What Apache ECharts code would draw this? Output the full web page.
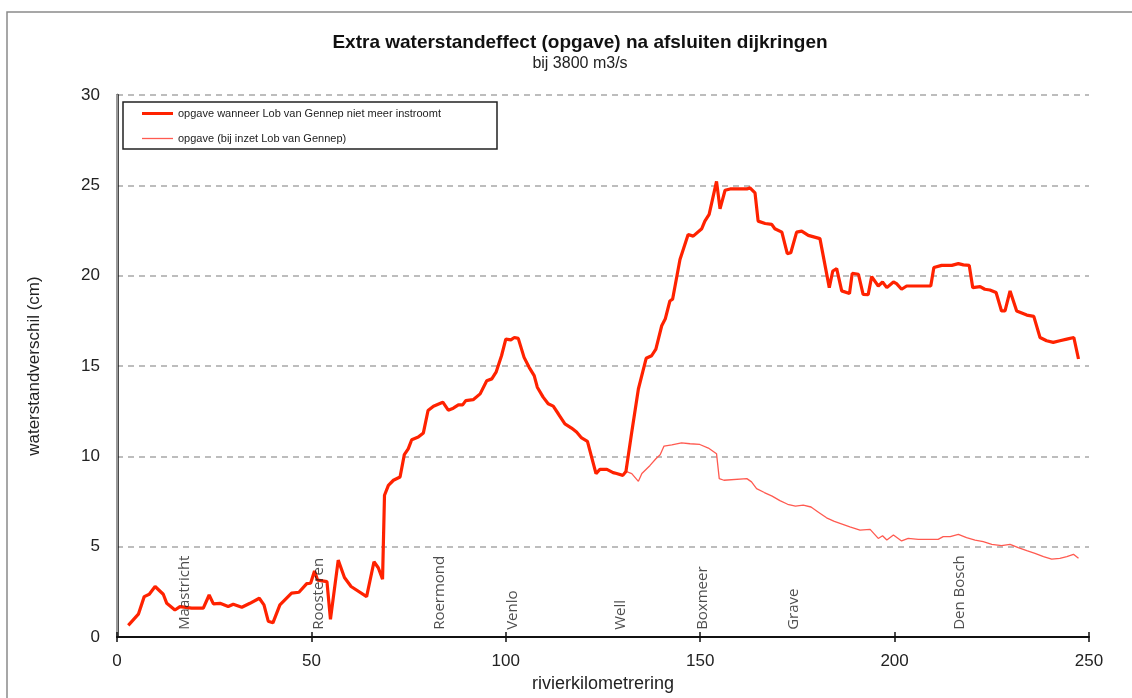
<!DOCTYPE html>
<html>
<head>
<meta charset="utf-8">
<script src="https://cdn.jsdelivr.net/npm/echarts@6/dist/echarts.min.js"></script>
<style>html,body{margin:0;padding:0;background:#fff}#c{width:1132px;height:698px}</style>
</head>
<body>
<div id="c"></div>
<script>
// ---- data ----
var seriesNames = ['opgave wanneer Lob van Gennep niet meer instroomt', 'opgave (bij inzet Lob van Gennep)'];
var kmA = [2.9,5.5,7.0,8.3,9.8,11.9,12.8,14.9,16.2,19.2,22.2,23.7,24.8,26.5,28.6,29.9,32.1,34.2,36.6,37.8,38.9,40.1,41.9,44.9,46.8,48.8,49.8,50.8,51.6,54.0,54.9,56.9,58.5,60.2,64.2,66.1,67.2,68.3,68.8,69.8,71.1,72.8,73.9,74.9,75.8,77.5,78.8,80.0,81.4,83.8,85.2,86.5,87.8,88.9,89.7,91.6,93.4,95.1,96.4,97.5,98.9,100.0,101.3,102.2,103.2,104.7,106.0,107.3,108.1,109.6,110.9,112.2,113.5,115.2,116.9,118.2,119.5,121.0,123.2,124.2,126.0,127.6,128.5,130.1,130.9,132.4,134.1,136.1,137.5,138.6,140.1,141.0,142.2,142.9,144.8,146.9,148.2,150.4,151.2,152.3,154.2,155.1,156.4,157.7,162.0,162.8,164.1,164.9,166.7,168.4,169.2,171.0,172.4,173.3,174.8,176.1,177.8,180.8,183.2,184.1,185.1,186.4,188.4,189.1,190.7,191.9,193.2,194.1,195.8,196.9,198.0,199.7,200.5,201.8,203.1,209.3,210.1,212.1,214.7,216.4,217.7,219.2,220.1,222.0,223.2,224.5,226.1,227.5,228.4,229.7,230.2,231.4,234.0,235.8,237.4,239.1,240.8,242.5,244.3,246.1,247.3];
var valA = [0.65,1.27,2.24,2.37,2.8,2.37,1.87,1.5,1.69,1.6,1.6,2.33,1.84,1.87,1.69,1.82,1.65,1.87,2.15,1.78,0.88,0.79,1.78,2.43,2.48,2.96,2.98,3.66,3.15,3.07,0.98,4.26,3.3,2.8,2.24,4.17,3.84,3.21,7.85,8.4,8.68,8.86,10.1,10.42,10.92,11.07,11.3,12.54,12.78,13.0,12.56,12.67,12.85,12.85,13.09,13.14,13.46,14.19,14.29,14.66,15.57,16.49,16.45,16.58,16.53,15.48,14.93,14.47,13.83,13.28,12.91,12.78,12.36,11.8,11.57,11.35,11.02,10.83,9.05,9.28,9.28,9.1,9.05,8.95,9.17,11.35,13.73,15.43,15.57,15.94,17.23,17.6,18.6,18.7,20.9,22.28,22.19,22.6,23.02,23.39,25.22,23.7,24.73,24.8,24.8,24.86,24.58,23.02,22.89,22.84,22.6,22.41,21.22,21.27,22.41,22.47,22.23,22.05,19.34,20.26,20.39,19.16,19.01,20.13,20.08,18.97,18.95,19.95,19.43,19.65,19.34,19.65,19.56,19.25,19.43,19.43,20.45,20.57,20.57,20.67,20.6,20.57,19.34,19.4,19.25,19.21,19.07,18.05,18.05,19.16,19.1,18.05,17.82,17.75,16.58,16.4,16.31,16.4,16.49,16.58,15.39];
var kmB = [130.1,130.9,132.4,134.1,135.0,137.1,138.6,139.7,140.7,142.7,145.2,147.4,149.9,152.1,154.2,154.9,156.1,162.0,163.2,164.5,166.5,168.5,170.5,172.5,174.5,176.5,178.5,180.5,182.5,184.5,186.5,188.5,191.1,193.7,195.8,196.9,198.0,199.7,201.8,203.5,206.1,211.2,212.5,214.3,216.4,218.5,220.7,222.8,225.0,227.5,229.7,231.8,234.0,236.1,238.3,240.4,242.5,244.3,246.0,247.3];
var valB = [8.95,9.17,9.05,8.62,9.05,9.5,9.87,10.09,10.57,10.64,10.75,10.7,10.66,10.46,10.15,8.77,8.68,8.77,8.59,8.22,8.0,7.8,7.55,7.35,7.25,7.3,7.2,6.9,6.6,6.4,6.25,6.1,5.92,5.96,5.46,5.61,5.37,5.65,5.32,5.46,5.41,5.41,5.56,5.56,5.68,5.5,5.37,5.28,5.13,5.06,5.13,4.95,4.78,4.63,4.45,4.32,4.36,4.45,4.58,4.36];
var cityNames = ['Maastricht','Roosteren','Roermond','Venlo','Well','Boxmeer','Grave','Den Bosch'];
var cityKm = [17.5,52,83,101.9,129.5,150.6,174,216.8];
var cityLabelY = 0.4;

function zip(xs, ys){ return xs.map(function(x,i){ return [x, ys[i]]; }); }

var chart = echarts.init(document.getElementById('c'));
var fam = '"Liberation Sans", Arial, sans-serif';
chart.setOption({
  animation: false,
  backgroundColor: '#fff',
  title: {
    text: 'Extra waterstandeffect (opgave) na afsluiten dijkringen',
    subtext: 'bij 3800 m3/s',
    left: 575, top: 28, textAlign: 'center', itemGap: 4,
    textStyle: { fontFamily: fam, fontSize: 19, fontWeight: 'bold', color: '#111' },
    subtextStyle: { fontFamily: fam, fontSize: 16, color: '#222' }
  },
  graphic: [
    { type: 'rect', silent: true, shape: { x: 7, y: 12, width: 1300, height: 900 }, style: { fill: 'none', stroke: '#8a8a8a', lineWidth: 1.5 }, z: -1 },
    { type: 'rect', silent: true, shape: { x: 123, y: 102, width: 374, height: 47 }, style: { fill: '#fff', stroke: '#222', lineWidth: 1.5 }, z: 5 }
  ],
  legend: {
    data: [
      { name: seriesNames[0], icon: 'path://M0,0L31,0L31,3L0,3Z', itemStyle: { color: '#ff2200' } },
      { name: seriesNames[1], icon: 'path://M0,0L31,0L31,1.3L0,1.3Z', itemStyle: { color: '#ff5a50' } }
    ],
    orient: 'vertical', left: 142, top: 108, itemGap: 14, itemWidth: 31, itemHeight: 14,
    padding: 0, z: 10,
    textStyle: { fontFamily: fam, fontSize: 11, color: '#222' }
  },
  grid: { left: 117, right: 43, top: 95, bottom: 59 },
  xAxis: [{
    type: 'value', min: 0, max: 250, interval: 50,
    name: 'rivierkilometrering', nameLocation: 'middle', nameGap: 37,
    nameTextStyle: { fontFamily: fam, fontSize: 18, color: '#222' },
    axisLine: { lineStyle: { color: '#111', width: 2 } },
    axisTick: { show: true, inside: false, length: 5, lineStyle: { color: '#111', width: 1.5 } },
    axisLabel: { fontFamily: fam, fontSize: 17, color: '#222', margin: 16 },
    splitLine: { show: false }
  }, {
    type: 'value', min: 0, max: 250, interval: 50, position: 'bottom',
    axisLine: { show: false },
    axisTick: { show: true, inside: true, length: 5, lineStyle: { color: '#111', width: 1.5 } },
    axisLabel: { show: false }, splitLine: { show: false }
  }],
  yAxis: [{
    type: 'value', min: 0, max: 30, interval: 5,
    name: 'waterstandverschil (cm)', nameLocation: 'middle', nameGap: 74,
    nameTextStyle: { fontFamily: fam, fontSize: 17, color: '#222' },
    axisLine: { show: true, lineStyle: { color: '#111', width: 2.5 } },
    axisTick: { show: false },
    axisLabel: { fontFamily: fam, fontSize: 17, color: '#222', margin: 17 },
    splitLine: { show: true, lineStyle: { color: '#bdbdbd', width: 2, type: [6, 5] } }
  }, {
    type: 'value', min: 0, max: 30, interval: 5, position: 'right',
    axisLine: { show: true, lineStyle: { color: '#9a9a9a', width: 2 } },
    axisTick: { show: false }, axisLabel: { show: false }, splitLine: { show: false }
  }],
  series: [
    {
      name: seriesNames[1], type: 'line', data: zip(kmB, valB), symbol: 'none',
      lineStyle: { color: '#ff5a50', width: 1.3 }, itemStyle: { color: '#ff5a50' }, z: 2
    },
    {
      name: seriesNames[0], type: 'line', data: zip(kmA, valA), symbol: 'none',
      lineStyle: { color: '#ff2200', width: 3.2 }, itemStyle: { color: '#ff2200' }, z: 3
    },
    {
      name: 'cities', type: 'scatter', silent: true, symbolSize: 0,
      data: cityKm.map(function(k, i){ return { value: [k, cityLabelY], name: cityNames[i] }; }),
      label: {
        show: true, formatter: '{b}', position: [0, 0], rotate: 90,
        align: 'left', verticalAlign: 'middle',
        fontFamily: '"Open Sans", sans-serif', fontSize: 15, color: '#222'
      }, z: 4
    }
  ]
});
</script>
</body>
</html>
